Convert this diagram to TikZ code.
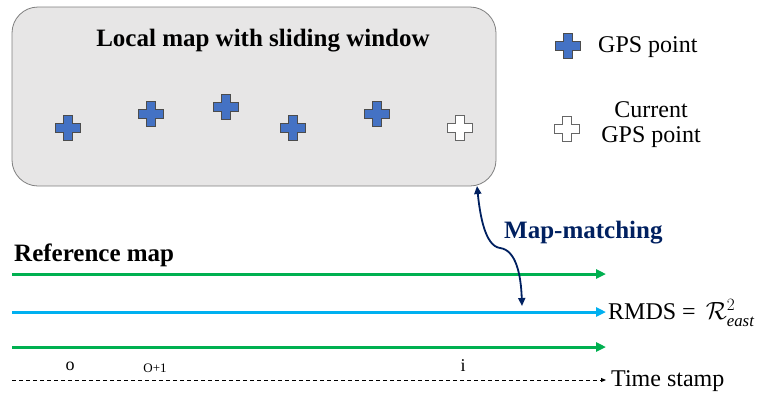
\documentclass[tikz,border=0pt]{standalone}
\usepackage{fontspec}
\setmainfont{Liberation Serif}
\usetikzlibrary{arrows.meta}
\definecolor{boxfill}{HTML}{E7E6E6}
\definecolor{boxdraw}{HTML}{7F7F7F}
\definecolor{gpsblue}{HTML}{4472C4}
\definecolor{rgreen}{HTML}{00B050}
\definecolor{rblue}{HTML}{00B0F0}
\definecolor{navy}{HTML}{002060}
\tikzset{
  gps/.pic={\path[pic actions] (-12.5,-4.5) -- (-4.5,-4.5) -- (-4.5,-12.5) -- (4.5,-12.5) -- (4.5,-4.5) -- (12.5,-4.5) -- (12.5,4.5) -- (4.5,4.5) -- (4.5,12.5) -- (-4.5,12.5) -- (-4.5,4.5) -- (-12.5,4.5) -- cycle;},
  fullgps/.style={fill=gpsblue, draw=black!70, line width=1pt},
  emptygps/.style={fill=white, draw=black!60, line width=1pt},
  refline/.style={line width=3pt, -{Triangle[length=10pt,width=9pt]}},
  lbl/.style={font=\fontsize{24}{26}\selectfont, inner sep=0pt},
  blbl/.style={font=\bfseries\fontsize{25}{27}\selectfont, inner sep=0pt},
  tick/.style={font=\fontsize{18}{19}\selectfont, inner sep=0pt}
}
\begin{document}
\begin{tikzpicture}[x=1pt,y=-1pt]
\useasboundingbox (0,0) rectangle (759,394);
% local map box
\node[draw=boxdraw, fill=boxfill, line width=0.8pt, rounded corners=26pt, minimum width=484pt, minimum height=179pt, inner sep=0pt] (box) at (254,96.5) {};
\node[blbl] (title) at (263,41) {Local map with sliding window};
% GPS points
\pic[fullgps] at (68,128) {gps};
\pic[fullgps] at (151,114) {gps};
\pic[fullgps] at (226,107) {gps};
\pic[fullgps] at (293,128) {gps};
\pic[fullgps] at (377,114) {gps};
\pic[emptygps] at (460,128) {gps};
% legend
\pic[fullgps] at (568,46) {gps};
\node[lbl, anchor=west] (leg1) at (598,47) {GPS point};
\pic[emptygps] at (567,129) {gps};
\node[lbl, align=center] (leg2) at (651,125) {Current\\[-1pt]GPS point};
% reference map
\node[blbl, anchor=west] (refmap) at (14,255) {Reference map};
\coordinate (g1s) at (12,274); \coordinate (g1e) at (606,274);
\coordinate (bs) at (12,312); \coordinate (be) at (606,312);
\coordinate (g2s) at (12,347); \coordinate (g2e) at (606,347);
\coordinate (ts) at (12,380); \coordinate (te) at (606,380);
\draw[refline, rgreen] (g1s) -- (g1e);
\draw[refline, rblue] (bs) -- (be);
\draw[refline, rgreen] (g2s) -- (g2e);
\draw[line width=0.9pt, dash pattern=on 4pt off 3pt, -{Triangle[length=5pt,width=4pt]}] (ts) -- (te);
\node[lbl, anchor=west] (rmds) at (608,313) {RMDS = \,$\mathcal{R}^{2}_{\mathit{east}}$};
\node[lbl, anchor=west] (tstamp) at (611,381) {Time stamp};
\node[tick] (o) at (70,366) {o};
\node[tick, font=\fontsize{13}{14}\selectfont] (o1) at (155,368) {O+1};
\node[tick] (ii) at (463,366) {i};
% map matching
\node[blbl, text=navy, anchor=west] (mm) at (504,233) {Map-matching};
\coordinate (mtop) at (477,186);
\coordinate (mbot) at (522,306);
\draw[navy, line width=1.8pt, {Triangle[length=8pt,width=7pt]}-{Triangle[length=8pt,width=7pt]}] (mtop) .. controls (480,215) and (485,246) .. (500,248) .. controls (516,250) and (521,275) .. (mbot);
\end{tikzpicture}
\end{document}
